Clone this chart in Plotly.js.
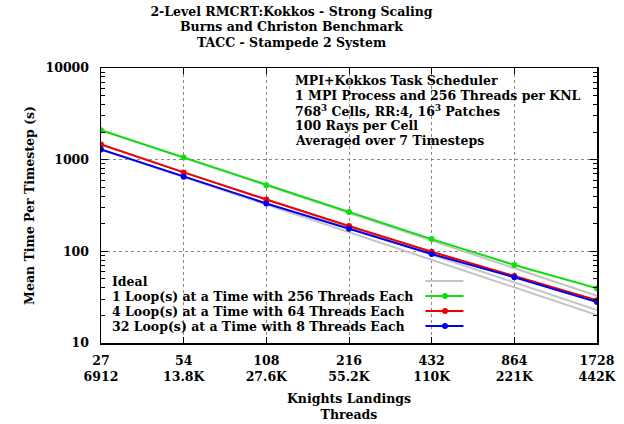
<!DOCTYPE html>
<html>
<head>
<meta charset="utf-8">
<script src="https://cdn.plot.ly/plotly-3.0.1.min.js"></script>
<style>html,body{margin:0;padding:0;background:#fff;}#chart{width:624px;height:424px;}</style>
</head>
<body>
<div id="chart"></div>
<script>
// ---- data ----
const knl = [27, 54, 108, 216, 432, 864, 1728];
const threadLabels = ['6912', '13.8K', '27.6K', '55.2K', '110K', '221K', '442K'];
const loops1x256 = [2094, 1057, 527, 268, 136, 71, 39.5];
const loops4x64 = [1465, 726, 368, 189, 99, 53.8, 29.3];
const loops32x8 = [1291, 650, 333, 176, 93.5, 52.1, 28];
const idealKnl = [27, 1728];
const ideal1x256 = [2094, 32.7];
const ideal4x64 = [1465, 22.9];
const ideal32x8 = [1291, 20.2];
const yTicks = [10, 100, 1000, 10000];
const seriesNames = ['Ideal', '1 Loop(s) at a Time with 256 Threads Each', '4 Loop(s) at a Time with 64 Threads Each', '32 Loop(s) at a Time with 8 Threads Each'];
const titleLines = ['2-Level RMCRT:Kokkos - Strong Scaling', 'Burns and Christon Benchmark', 'TACC - Stampede 2 System'];
const infoLines = ['MPI+Kokkos Task Scheduler', '1 MPI Process and 256 Threads per KNL', '768<sup>3</sup> Cells, RR:4, 16<sup>3</sup> Patches', '100 Rays per Cell', 'Averaged over 7 Timesteps'];

// ---- style ----
const FONT = '"DejaVu Serif", "Liberation Serif", serif';
const FS = 12.5;
const GREEN = '#11dd11', RED = '#ee0000', BLUE = '#0000ee', GRAY = '#c4c4c4';
const W = 624, H = 424, L = 101, R = 27, T = 68, B = 81;
const PW = W - L - R, PH = H - T - B;
const px = x => (x - L) / PW;
const py = y => (H - B - y) / PH;
const f = (s) => ({family: FONT, size: s || FS, color: '#000', weight: 'bold'});

const ticktext = knl.map((k, i) => k + '<br>' + threadLabels[i]);

const traces = [];
[ideal1x256, ideal4x64, ideal32x8].forEach((iy, i) => {
  traces.push({x: idealKnl, y: iy, type: 'scatter', mode: 'lines', name: seriesNames[0],
    line: {color: GRAY, width: 2}, showlegend: false, hoverinfo: 'skip'});
});
const cols = [GREEN, RED, BLUE];
[loops1x256, loops4x64, loops32x8].forEach((ys, i) => {
  traces.push({x: knl, y: ys, type: 'scatter', mode: 'lines+markers', name: seriesNames[i + 1],
    line: {color: cols[i], width: 2}, marker: {color: cols[i], size: 6, symbol: 'circle'}, showlegend: false});
});

const annotations = [];
titleLines.slice(1).forEach((t, i) => {
  annotations.push({text: t, xref: 'paper', yref: 'paper', x: px(291.5), y: py(27 + 15 * i), xanchor: 'center', yanchor: 'middle', showarrow: false, font: f()});
});
const infoY = [80.5, 95.5, 110.5, 125.5, 140.5];
infoLines.forEach((t, i) => {
  annotations.push({text: t, xref: 'paper', yref: 'paper', x: px(293), y: py(infoY[i]), xanchor: 'left', yanchor: 'middle', showarrow: false, font: f()});
});
const legY = [281, 296, 311, 326];
const legCols = [GRAY, GREEN, RED, BLUE];
const shapes = [];
seriesNames.forEach((t, i) => {
  annotations.push({text: t, xref: 'paper', yref: 'paper', x: px(110), y: py(legY[i]), xanchor: 'left', yanchor: 'middle', showarrow: false, font: f()});
  shapes.push({type: 'line', xref: 'paper', yref: 'paper', x0: px(425.5), x1: px(463.5), y0: py(legY[i]), y1: py(legY[i]), line: {color: legCols[i], width: 2}});
  if (i > 0) {
    shapes.push({type: 'circle', xref: 'paper', yref: 'paper', xsizemode: 'pixel', ysizemode: 'pixel',
      xanchor: px(445), yanchor: py(legY[i]), x0: -3, x1: 3, y0: -3, y1: 3, fillcolor: legCols[i], line: {color: legCols[i], width: 0}});
  }
});

const layout = {
  width: W, height: H,
  margin: {l: L, r: R, t: T, b: B, pad: 0},
  paper_bgcolor: '#fff', plot_bgcolor: '#fff',
  showlegend: false,
  font: f(),
  title: {text: titleLines[0], font: f(), x: 291.5 / W, xref: 'container', xanchor: 'center', y: 1 - 12 / H, yref: 'container', yanchor: 'middle'},
  xaxis: {
    type: 'log', range: [Math.log10(27), Math.log10(1728)],
    tickvals: knl, ticktext: ticktext, tickfont: f(),
    ticks: 'inside', ticklen: 6, tickwidth: 1, tickcolor: '#000',
    showline: true, linecolor: '#000', linewidth: 1.5, mirror: 'allticks',
    showgrid: true, gridcolor: '#888', gridwidth: 1, griddash: 'dot',
    zeroline: false, ticklabelstandoff: 5,
    title: {text: 'Knights Landings<br>Threads', font: f(), standoff: 11}
  },
  yaxis: {
    type: 'log', range: [1, 4],
    tickvals: yTicks, ticktext: yTicks.map(String), tickfont: f(),
    ticks: 'inside', ticklen: 7, tickwidth: 1, tickcolor: '#000',
    minor: {ticks: 'inside', ticklen: 4, tickcolor: '#000', tickwidth: 1, dtick: 'D1', showgrid: false},
    showline: true, linecolor: '#000', linewidth: 1.5, mirror: 'allticks',
    showgrid: true, gridcolor: '#888', gridwidth: 1, griddash: 'dot',
    zeroline: false, ticklabelstandoff: 8,
    title: {text: 'Mean Time Per Timestep (s)', font: f(), standoff: 8}
  },
  annotations: annotations,
  shapes: shapes
};

Plotly.newPlot('chart', traces, layout, {displayModeBar: false, staticPlot: true});
</script>
</body>
</html>
